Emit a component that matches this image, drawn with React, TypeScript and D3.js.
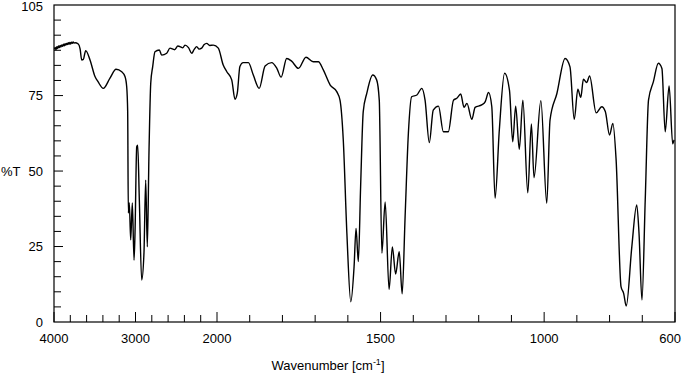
import React from "react";
import * as d3 from "d3";

const wavenumbers: number[] = [
  3995, 3985, 3975, 3965, 3955, 3945, 3935, 3925, 3915, 3905, 3895, 3885, 3875, 3865, 3855, 3845, 3835, 3825, 3815, 3805, 3795, 3785, 3775, 3765, 3755, 3742,
  3702, 3680, 3660, 3640, 3611, 3558, 3497, 3460, 3395, 3313, 3239, 3169, 3129, 3108, 3096, 3088, 3076, 3059, 3039, 3018, 3006, 2985, 2973, 2953, 2924, 2896,
  2875, 2855, 2834, 2813, 2789, 2761, 2708, 2679, 2617, 2577, 2520, 2480, 2454, 2420, 2393, 2350, 2310, 2280, 2249, 2220, 2188, 2160, 2126, 2090, 2045,
  1996, 1981, 1970, 1955, 1945, 1938, 1930, 1920, 1904, 1889, 1871, 1853, 1833, 1817, 1804, 1787, 1772, 1751, 1728, 1706, 1690, 1675, 1654, 1634, 1624,
  1614, 1603, 1591, 1581, 1575, 1568, 1561, 1553, 1542, 1524, 1512, 1504, 1496, 1486, 1474, 1464, 1454, 1443, 1434, 1425, 1415, 1405, 1389, 1374, 1364,
  1351, 1339, 1323, 1308, 1293, 1277, 1267, 1255, 1245, 1236, 1221, 1211, 1191, 1180, 1170, 1160, 1150, 1137, 1121, 1106, 1096, 1087, 1076, 1065, 1050,
  1039, 1031, 1010, 992, 982, 961, 936, 921, 908, 897, 888, 880, 870, 861, 841, 824, 813, 800, 790, 780, 765, 757, 749, 732, 717, 710, 701, 691, 681,
  666, 651, 640, 630, 618, 607, 603,
];

const transmittance: number[] = [
  90.3, 90.9, 90.2, 91.2, 90.6, 91.4, 90.9, 91.6, 91.1, 91.8, 91.3, 92.0, 91.5, 92.2, 91.7, 92.3, 91.9, 92.5, 92.0, 92.6, 92.1, 92.7, 92.3, 92.8, 92.4, 92.5,
  92.1, 90.5, 86.8, 87.0, 89.9, 86.8, 81.3, 79.6, 77.4, 80.8, 83.7, 82.9, 81.3, 77.9, 69.7, 36.1, 39.4, 27.2, 39.4, 20.5, 29.5, 58.1, 58.6, 40.4, 13.9, 22.9,
  47.0, 24.9, 57.0, 79.1, 84.6, 89.5, 90.1, 88.4, 89.0, 90.7, 90.2, 91.4, 91.2, 90.8, 91.7, 90.9, 89.0, 90.3, 91.2, 90.4, 90.7, 91.8, 92.3, 91.6, 91.7,
  90.7, 85.1, 82.9, 80.2, 73.8, 75.8, 84.6, 85.9, 85.9, 81.8, 77.4, 84.8, 85.9, 84.0, 81.1, 87.3, 86.4, 84.0, 87.7, 86.2, 86.2, 83.5, 78.5, 76.3, 73.5,
  60.3, 29.4, 6.7, 18.3, 31.0, 20.0, 44.8, 69.7, 75.8, 81.8, 80.2, 73.5, 22.8, 39.8, 10.8, 24.9, 15.9, 23.3, 9.3, 34.9, 62.5, 74.6, 75.2, 77.4, 73.5,
  59.4, 70.2, 71.5, 63.0, 63.0, 73.5, 74.1, 75.5, 71.1, 72.4, 67.1, 71.1, 71.9, 73.0, 76.0, 71.3, 41.0, 63.6, 82.4, 76.8, 59.7, 71.5, 57.2, 73.5, 42.8,
  65.6, 47.8, 73.3, 39.3, 66.9, 75.7, 87.3, 84.5, 67.1, 77.1, 74.4, 80.4, 79.3, 81.5, 69.3, 71.3, 69.7, 61.9, 65.8, 53.7, 11.7, 9.5, 5.3, 24.9, 38.8, 29.4, 7.3, 40.4, 73.5,
  79.6, 85.7, 84.0, 63.0, 78.2, 59.0, 60.3,
];

const xTickLabels: number[] = [4000, 3000, 2000, 1500, 1000, 600];
const xMinorTicks: number[] = [
  3800, 3600, 3400, 3200, 2800, 2600, 2400, 2200, 1900, 1800, 1700, 1600, 1400, 1300, 1200, 1100, 900, 800, 700,
];
const yTickLabels: number[] = [105, 75, 50, 25, 0];
const yMajorTicks: number[] = [75, 50, 25];

export default function App() {
  const left = 54;
  const right = 675;
  const top = 5;
  const bottom = 322;

  const x = d3.scaleLinear().domain([4000, 2000, 600]).range([left, 217, right]);
  const y = d3.scaleLinear().domain([0, 105]).range([bottom, top]);

  const pts: [number, number][] = wavenumbers.map((w, i) => [w, transmittance[i]]);
  const line = d3
    .line<[number, number]>()
    .x((d) => x(d[0]))
    .y((d) => y(d[1]))
    .curve(d3.curveMonotoneX);

  const yMinor = d3.range(5, 105, 5).filter((v) => !yMajorTicks.includes(v));
  const font = "'Liberation Sans', Arial, sans-serif";

  return (
    <svg
      width={683}
      height={375}
      style={{ position: "absolute", left: 0, top: 0, background: "#fff" }}
    >
      <rect x={left} y={top} width={right - left} height={bottom - top} fill="none" stroke="#000" strokeWidth={1.2} />
      {yMinor.map((v) => (
        <line key={"ym" + v} x1={left} x2={left + 7} y1={y(v)} y2={y(v)} stroke="#000" strokeWidth={1} />
      ))}
      {yMajorTicks.map((v) => (
        <line key={"yM" + v} x1={left} x2={left + 9} y1={y(v)} y2={y(v)} stroke="#000" strokeWidth={1} />
      ))}
      {xMinorTicks.map((v) => (
        <line key={"xm" + v} x1={x(v)} x2={x(v)} y1={bottom} y2={bottom - 7} stroke="#000" strokeWidth={1} />
      ))}
      {xTickLabels.map((v) => (
        <line key={"xM" + v} x1={x(v)} x2={x(v)} y1={bottom} y2={bottom - 10} stroke="#000" strokeWidth={1} />
      ))}
      {yTickLabels.map((v) => (
        <text
          key={"yl" + v}
          x={43}
          y={v === 105 ? 11 : y(v) + 4.5}
          textAnchor="end"
          fontFamily={font}
          fontSize={13}
          fill="#000"
        >
          {v}
        </text>
      ))}
      {xTickLabels.map((v, i) => {
        const last = i === xTickLabels.length - 1;
        return (
          <text
            key={"xl" + v}
            x={last ? 681 : x(v)}
            y={343}
            textAnchor={last ? "end" : "middle"}
            fontFamily={font}
            fontSize={13}
            fill="#000"
          >
            {v}
          </text>
        );
      })}
      <text x={1} y={y(50) + 4.5} fontFamily={font} fontSize={13} fill="#000">
        %T
      </text>
      <text x={328} y={370} textAnchor="middle" fontFamily={font} fontSize={13} fill="#000">
        Wavenumber [cm
        <tspan dy={-5} fontSize={9}>-1</tspan>
        <tspan dy={5}>]</tspan>
      </text>
      <path d={line(pts) || ""} fill="none" stroke="#000" strokeWidth={1.4} strokeLinejoin="round" />
    </svg>
  );
}
